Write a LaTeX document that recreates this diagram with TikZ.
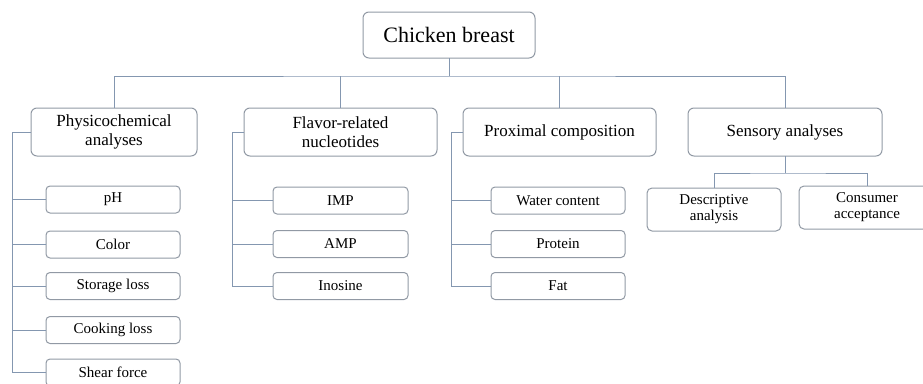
\documentclass[tikz,border=0pt]{standalone}
\usepackage{fontspec}
\setmainfont{Liberation Serif}
\usepackage{tikz}
\definecolor{linegray}{HTML}{8497B0}
\definecolor{boxgray}{HTML}{9199A4}

\begin{document}
\begin{tikzpicture}
  [x=1pt,y=-1pt,
   root/.style={rectangle,rounded corners=6pt,draw=boxgray,line width=1pt,align=center,
                outer sep=0,minimum width=172pt,minimum height=46pt,
                font=\fontsize{22}{25}\selectfont},
   branch/.style={rectangle,rounded corners=6pt,draw=boxgray,line width=1pt,align=center,
                  outer sep=0,minimum height=48pt,
                  font=\fontsize{17}{19}\selectfont},
   leaf/.style={rectangle,rounded corners=4pt,draw=boxgray,line width=1pt,align=center,
                outer sep=0,minimum width=134pt,minimum height=27pt,
                font=\fontsize{15}{17}\selectfont},
   twoline/.style={rectangle,rounded corners=5pt,draw=boxgray,line width=1pt,align=center,
                   outer sep=0,minimum width=134pt,minimum height=43pt,
                   font=\fontsize{15}{16}\selectfont},
   link/.style={draw=linegray,line width=1pt}]
  \useasboundingbox (0,0) rectangle (923,383);
  \node[root] (chicken) at (449,35) {Chicken breast};
  \node[branch,minimum width=166pt] (physico) at (114,132) {Physicochemical\\analyses};
  \node[branch,minimum width=193pt] (flavor) at (340.5,132) {Flavor-related\\nucleotides};
  \node[branch,minimum width=193pt] (proximal) at (559.5,132) {Proximal composition};
  \node[branch,minimum width=194pt] (sensory) at (785,132) {Sensory analyses};
%  physicochemical
  \node[leaf] (ph) at (113,199.5) {pH};
  \node[leaf] (color) at (113,244.5) {Color};
  \node[leaf] (storage) at (113,286) {Storage loss};
  \node[leaf] (cooking) at (113,330) {Cooking loss};
  \node[leaf] (shear) at (113,372.5) {Shear force};
%  nucleotides
  \node[leaf,minimum width=135pt] (imp) at (340.5,200.5) {IMP};
  \node[leaf,minimum width=135pt] (amp) at (340.5,244) {AMP};
  \node[leaf,minimum width=135pt] (inosine) at (340.5,286) {Inosine};
%  composition
  \node[leaf] (water) at (558,200.5) {Water content};
  \node[leaf] (protein) at (558,244) {Protein};
  \node[leaf] (fat) at (558,286) {Fat};
%  sensory
  \node[twoline] (descriptive) at (714,209.5) {Descriptive\\analysis};
  \node[twoline,minimum width=136pt] (consumer) at (867,207.5) {Consumer\\acceptance};
  \coordinate (bus) at (449,76);
  \coordinate (physrail) at (12,132);
  \coordinate (flavrail) at (232,132);
  \coordinate (proxrail) at (451,132);
  \coordinate (sensjoin) at (785,173);
  \draw[link] (chicken) -- (bus);
  \draw[link] (physico.north) |- (bus) -| (sensory.north);
  \draw[link] (flavor.north) -- (flavor.north |- bus);
  \draw[link] (proximal.north) -- (proximal.north |- bus);
  \draw[link] (physico.west) -- (physrail) |- (shear.west);
  \foreach \n in {ph,color,storage,cooking}
    \draw[link] (\n.west) -- (\n.west -| physrail);
  \draw[link] (flavor.west) -- (flavrail) |- (inosine.west);
  \foreach \n in {imp,amp}
    \draw[link] (\n.west) -- (\n.west -| flavrail);
  \draw[link] (proximal.west) -- (proxrail) |- (fat.west);
  \foreach \n in {water,protein}
    \draw[link] (\n.west) -- (\n.west -| proxrail);
  \draw[link] (sensory.south) -- (sensjoin);
  \draw[link] (descriptive.north) |- (sensjoin) -| (consumer.north);
\end{tikzpicture}
\end{document}
